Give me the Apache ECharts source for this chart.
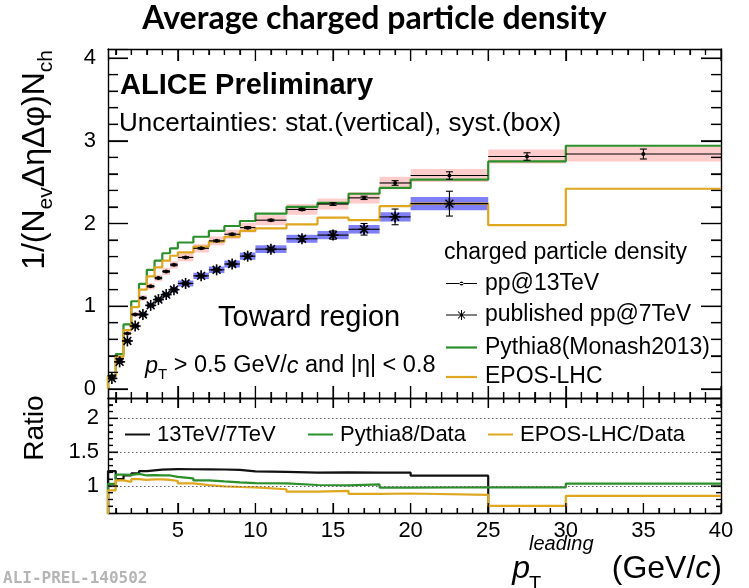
<!DOCTYPE html>
<html>
<head>
<meta charset="utf-8">
<script src="https://cdn.jsdelivr.net/npm/echarts@6/dist/echarts.min.js"></script>
<style>
  html, body { margin: 0; padding: 0; background: #fff; }
  #chart { width: 749px; height: 588px; }
</style>
</head>
<body>
<div id="chart"></div>
<script>
// Leading-track pT bin edges (GeV/c)
const binEdges = [0.5, 1, 1.5, 2, 2.5, 3, 3.5, 4, 4.5, 5, 6, 7, 8, 9, 10, 12, 14, 16, 18, 20, 25, 30, 40];

// pp @ 13 TeV: density, stat. error, syst. error
const pp13Values = [0.155, 0.36, 0.67, 0.90, 1.10, 1.24, 1.34, 1.42, 1.50, 1.59, 1.70, 1.79, 1.87, 1.95, 2.04, 2.17, 2.235, 2.31, 2.49, 2.58, 2.81, 2.84];
const pp13Stat = [0.005, 0.006, 0.007, 0.007, 0.008, 0.008, 0.009, 0.009, 0.01, 0.008, 0.009, 0.01, 0.011, 0.012, 0.011, 0.013, 0.016, 0.02, 0.028, 0.045, 0.045, 0.06];
const pp13Syst = [0.01, 0.015, 0.022, 0.028, 0.033, 0.037, 0.04, 0.043, 0.045, 0.048, 0.051, 0.054, 0.056, 0.059, 0.061, 0.065, 0.067, 0.069, 0.075, 0.078, 0.084, 0.09];

// published pp @ 7 TeV (up to 25 GeV/c)
const pp7Values = [0.127, 0.327, 0.58, 0.76, 0.90, 1.01, 1.08, 1.14, 1.20, 1.275, 1.367, 1.44, 1.51, 1.605, 1.69, 1.815, 1.86, 1.93, 2.08, 2.24];
const pp7Stat = [0.008, 0.01, 0.012, 0.012, 0.013, 0.014, 0.015, 0.015, 0.016, 0.012, 0.014, 0.016, 0.018, 0.02, 0.018, 0.03, 0.05, 0.07, 0.095, 0.15];
const pp7Syst = [0.006, 0.012, 0.018, 0.022, 0.025, 0.028, 0.03, 0.032, 0.034, 0.036, 0.038, 0.04, 0.042, 0.044, 0.046, 0.048, 0.05, 0.052, 0.056, 0.08];

// MC generators
const pythiaValues = [0.16, 0.42, 0.78, 1.06, 1.27, 1.44, 1.55, 1.64, 1.70, 1.77, 1.84, 1.91, 1.97, 2.03, 2.12, 2.20, 2.25, 2.36, 2.43, 2.53, 2.75, 2.94];
const eposValues = [0.145, 0.39, 0.71, 0.99, 1.20, 1.36, 1.47, 1.55, 1.61, 1.65, 1.72, 1.78, 1.84, 1.91, 1.94, 1.99, 2.07, 2.04, 2.21, 2.24, 1.98, 2.42];

// Ratios (lower panel)
const ratio13over7 = [1.22, 1.10, 1.155, 1.185, 1.22, 1.23, 1.24, 1.245, 1.25, 1.247, 1.245, 1.243, 1.238, 1.215, 1.207, 1.196, 1.2, 1.197, 1.197, 1.152];
const ratioPythia = [1.03, 1.167, 1.164, 1.178, 1.155, 1.161, 1.157, 1.155, 1.133, 1.113, 1.082, 1.067, 1.053, 1.041, 1.039, 1.014, 1.007, 1.022, 0.976, 0.981, 0.979, 1.035];
const ratioEpos = [0.935, 1.083, 1.06, 1.10, 1.09, 1.097, 1.097, 1.09, 1.073, 1.038, 1.012, 0.994, 0.984, 0.98, 0.951, 0.917, 0.926, 0.883, 0.888, 0.868, 0.705, 0.852];

// Axis tick labels
const xTickValues = [5, 10, 15, 20, 25, 30, 35, 40];
const yTickValues = [0, 1, 2, 3, 4];
const ratioTickValues = [1, 1.5, 2];
const ratioRefLines = [1, 1.5, 2];

const FONT = '"Liberation Sans", Arial, Helvetica, sans-serif';
const GREEN = '#2b8f2b';
const GOLD = '#dfa620';

const X_MIN = 0.5, X_MAX = 40;
const Y_MIN = -0.11, Y_MAX = 4.11;
const R_MIN = 0.6, R_MAX = 2.3;

const PLOT_LEFT = 108, PLOT_W = 613;
const TOP_Y = 49, TOP_H = 349, RATIO_H = 115;

function between(lo, hi, step, skip) {
  const out = [];
  for (let k = Math.round(lo / step); k * step <= hi + 1e-9; k++) {
    const v = +(k * step).toFixed(4);
    if (!skip.some(s => Math.abs(s - v) < 1e-6)) out.push(v);
  }
  return out;
}
const xMinor = between(1, 39, 1, xTickValues);
const yMinor = between(0.2, 4, 0.2, yTickValues);
const rMinor = between(0.7, 2.2, 0.1, ratioTickValues);

const numLabel = { fontFamily: FONT, fontSize: 22, color: '#000' };
const blackLine = { color: '#000', width: 1.2 };

// Frame axes: outline and numeric labels
function frameAxis(grid, pos, min, max, label) {
  return {
    type: 'value', gridIndex: grid, position: pos, min: min, max: max,
    axisLine: { show: true, onZero: false, lineStyle: { color: '#000', width: 1.4 } },
    splitLine: { show: false }, axisTick: { show: false },
    axisLabel: label ? Object.assign({ show: true, customValues: label.values }, label.style) : { show: false }
  };
}
// Tick axes: inward major + minor ticks from the axis' own nice intervals
function tickAxis(grid, pos, min, max, splitNumber, lenMajor, lenMinor, minorSplit) {
  return {
    type: 'value', gridIndex: grid, position: pos, min: min, max: max, splitNumber: splitNumber,
    axisLine: { show: false, onZero: false }, splitLine: { show: false }, axisLabel: { show: false },
    axisTick: { show: true, inside: true, length: lenMajor, lineStyle: blackLine },
    minorTick: { show: true, splitNumber: minorSplit, length: lenMinor, lineStyle: blackLine }
  };
}

// Histogram outline as a step line starting from the baseline at the first edge
function stepData(vals, endBase) {
  const pts = [[binEdges[0], 0]];
  for (let i = 0; i < vals.length; i++) pts.push([binEdges[i], vals[i]]);
  pts.push([binEdges[vals.length], vals[vals.length - 1]]);
  if (endBase !== undefined) pts.push([binEdges[vals.length], endBase]);
  return pts;
}
function stepSeries(name, vals, color, xi, yi, endBase, extra) {
  return Object.assign({
    type: 'line', name: name, xAxisIndex: xi, yAxisIndex: yi, step: 'end',
    symbol: 'none', showSymbol: false, clip: true, silent: true, z: 3,
    color: color, itemStyle: { color: color },
    lineStyle: { color: color, width: 2.2 },
    data: stepData(vals, endBase)
  }, extra || {});
}

// Systematic-uncertainty boxes spanning the bin width
function boxSeries(name, vals, syst, fill) {
  return {
    type: 'custom', name: name, xAxisIndex: 0, yAxisIndex: 0, z: 1, silent: true, clip: true,
    data: vals.map((v, i) => [binEdges[i], binEdges[i + 1], v - syst[i], v + syst[i]]),
    encode: { x: [0, 1], y: [2, 3] },
    renderItem: function (params, api) {
      const a = api.coord([api.value(0), api.value(3)]);
      const b = api.coord([api.value(1), api.value(2)]);
      return { type: 'rect', shape: { x: a[0], y: a[1], width: b[0] - a[0], height: b[1] - a[1] }, style: { fill: fill } };
    }
  };
}

// Data points: bin-width bar, stat. error bar with caps, marker
function pointSeries(name, vals, stat, marker) {
  return {
    type: 'custom', name: name, xAxisIndex: 0, yAxisIndex: 0, z: 5, silent: true, clip: true,
    itemStyle: { color: '#000' },
    data: vals.map((v, i) => [binEdges[i], binEdges[i + 1], v, stat[i]]),
    encode: { x: [0, 1], y: 2 },
    renderItem: function (params, api) {
      const lo = api.value(0), hi = api.value(1), v = api.value(2), e = api.value(3);
      const mid = (lo + hi) / 2;
      const L = api.coord([lo, v]), R = api.coord([hi, v]), C = api.coord([mid, v]);
      const T = api.coord([mid, v + e]), B = api.coord([mid, v - e]);
      const ls = { stroke: '#000', lineWidth: 1.1 };
      const kids = [
        { type: 'line', shape: { x1: L[0], y1: L[1], x2: R[0], y2: R[1] }, style: ls },
        { type: 'line', shape: { x1: T[0], y1: T[1], x2: B[0], y2: B[1] }, style: ls },
        { type: 'line', shape: { x1: T[0] - 3.5, y1: T[1], x2: T[0] + 3.5, y2: T[1] }, style: ls },
        { type: 'line', shape: { x1: B[0] - 3.5, y1: B[1], x2: B[0] + 3.5, y2: B[1] }, style: ls }
      ];
      if (marker === 'dot') {
        kids.push({ type: 'circle', shape: { cx: C[0], cy: C[1], r: 2 }, style: { fill: '#000' } });
      } else {
        const s = 5.5, d = 3.9, st = { stroke: '#000', lineWidth: 1.6 };
        kids.push({ type: 'line', shape: { x1: C[0] - s, y1: C[1], x2: C[0] + s, y2: C[1] }, style: st });
        kids.push({ type: 'line', shape: { x1: C[0], y1: C[1] - s, x2: C[0], y2: C[1] + s }, style: st });
        kids.push({ type: 'line', shape: { x1: C[0] - d, y1: C[1] - d, x2: C[0] + d, y2: C[1] + d }, style: st });
        kids.push({ type: 'line', shape: { x1: C[0] - d, y1: C[1] + d, x2: C[0] + d, y2: C[1] - d }, style: st });
      }
      return { type: 'group', children: kids };
    }
  };
}

// Frame ticks as thin filled bars, positioned through the panel scales
function xTickSeries(xi, yi, yMin, yMax, majors, minors, lenMaj, lenMin) {
  return {
    type: 'custom', name: 'x ticks ' + xi, xAxisIndex: xi, yAxisIndex: yi, z: 6, silent: true, clip: false,
    itemStyle: { color: '#000' },
    data: majors.map(v => [v, v, yMin, lenMaj]).concat(minors.map(v => [v, v, yMin, lenMin])),
    encode: { x: [0, 1], y: 2 },
    renderItem: function (params, api) {
      const v = api.value(0), len = api.value(3);
      const b = api.coord([v, yMin]), t = api.coord([v, yMax]);
      return { type: 'group', children: [
        { type: 'rect', shape: { x: b[0] - 0.6, y: b[1] - len, width: 1.2, height: len }, style: { fill: '#000' } },
        { type: 'rect', shape: { x: t[0] - 0.6, y: t[1], width: 1.2, height: len }, style: { fill: '#000' } }
      ] };
    }
  };
}
function yTickSeries(xi, yi, majors, minors, lenMaj, lenMin) {
  return {
    type: 'custom', name: 'y ticks ' + yi, xAxisIndex: xi, yAxisIndex: yi, z: 6, silent: true, clip: false,
    itemStyle: { color: '#000' },
    data: majors.map(v => [X_MIN, X_MAX, v, lenMaj]).concat(minors.map(v => [X_MIN, X_MAX, v, lenMin])),
    encode: { x: [0, 1], y: 2 },
    renderItem: function (params, api) {
      const v = api.value(2), len = api.value(3);
      const l = api.coord([X_MIN, v]), r = api.coord([X_MAX, v]);
      return { type: 'group', children: [
        { type: 'rect', shape: { x: l[0], y: l[1] - 0.6, width: len, height: 1.2 }, style: { fill: '#000' } },
        { type: 'rect', shape: { x: r[0] - len, y: r[1] - 0.6, width: len, height: 1.2 }, style: { fill: '#000' } }
      ] };
    }
  };
}

const legendText = { fontFamily: FONT, fontSize: 23, color: '#000', padding: [0, 0, 0, 3] };
const ratioLegendText = { fontFamily: FONT, fontSize: 22, color: '#000', padding: [0, 0, 0, 2] };
const ICON_DOT = 'path://M0 2H31V3H0Z M13.5 2.5A2 2 0 1 0 17.5 2.5A2 2 0 1 0 13.5 2.5Z';
const ICON_STAR = 'path://M0 4.5H31V5.5H0Z M15 0H16V10H15Z M11.65 1.85L12.35 1.15L19.35 8.15L18.65 8.85Z M18.65 1.15L19.35 1.85L12.35 8.85L11.65 8.15Z';

function legendEntry(name, left, top, icon, w, h, text) {
  return {
    data: [name], left: left, top: top, padding: 0, orient: 'horizontal',
    itemWidth: w, itemHeight: h, icon: icon, selectedMode: false,
    textStyle: text
  };
}

const labels = [
  { type: 'text', x: 120, y: 86, style: { text: 'ALICE Preliminary', font: 'bold 29px ' + FONT, fill: '#000', align: 'left', verticalAlign: 'middle' } },
  { type: 'text', x: 119, y: 124, style: { text: 'Uncertainties: stat.(vertical), syst.(box)', font: '26px ' + FONT, fill: '#000', align: 'left', verticalAlign: 'middle' } },
  { type: 'text', x: 218, y: 318, style: { text: 'Toward region', font: '29px ' + FONT, fill: '#000', align: 'left', verticalAlign: 'middle' } },
  { type: 'text', x: 444, y: 253, style: { text: 'charged particle density', font: '23px ' + FONT, fill: '#000', align: 'left', verticalAlign: 'middle' } },
  {
    type: 'text', x: 145, y: 366,
    style: {
      text: '{i|p}{s|T}{n| > 0.5 GeV/}{i|c}{n| and |η| < 0.8}', align: 'left', verticalAlign: 'middle',
      rich: {
        n: { fontFamily: FONT, fontSize: 23.5, lineHeight: 32, fill: '#000' },
        i: { fontFamily: FONT, fontSize: 23.5, fontStyle: 'italic', lineHeight: 32, fill: '#000' },
        s: { fontFamily: FONT, fontSize: 15, lineHeight: 15, verticalAlign: 'bottom', fill: '#000' }
      }
    }
  },
  {
    type: 'text', x: 35, y: 50, rotation: Math.PI / 2,
    style: {
      text: '{a|1/(N}{s|ev}{a|ΔηΔφ)N}{s|ch}', align: 'right', verticalAlign: 'middle',
      rich: {
        a: { fontFamily: FONT, fontSize: 32, lineHeight: 44, fill: '#000' },
        s: { fontFamily: FONT, fontSize: 21, lineHeight: 21, verticalAlign: 'bottom', fill: '#000' }
      }
    }
  },
  { type: 'text', x: 35, y: 428, rotation: Math.PI / 2, style: { text: 'Ratio', font: '28px ' + FONT, fill: '#000', align: 'center', verticalAlign: 'middle' } },
  { type: 'text', x: 530, y: 569, style: { text: 'p', font: 'italic 32px ' + FONT, fill: '#000', align: 'right', verticalAlign: 'middle' } },
  { type: 'text', x: 529, y: 544, style: { text: 'leading', font: 'italic 20px ' + FONT, fill: '#000', align: 'left', verticalAlign: 'middle' } },
  { type: 'text', x: 529, y: 584, style: { text: 'T', font: '20px ' + FONT, fill: '#000', align: 'left', verticalAlign: 'middle' } },
  {
    type: 'text', x: 722, y: 569,
    style: {
      text: '{n|(GeV/}{i|c}{n|)}', align: 'right', verticalAlign: 'middle',
      rich: {
        n: { fontFamily: FONT, fontSize: 32, fill: '#000' },
        i: { fontFamily: FONT, fontSize: 32, fontStyle: 'italic', fill: '#000' }
      }
    }
  },
  { type: 'text', x: 3, y: 579, style: { text: 'ALI-PREL-140502', font: 'bold 16px "DejaVu Sans Mono", monospace', fill: '#b5b5b5', align: 'left', verticalAlign: 'middle' } }
];

const option = {
  animation: false,
  backgroundColor: '#fff',
  title: {
    text: 'Average charged particle density', left: 'center', top: 3, padding: 0,
    textStyle: { fontFamily: 'Lato, "Open Sans", sans-serif', fontWeight: 'bold', fontSize: 32, color: '#000' }
  },
  grid: [
    { left: PLOT_LEFT, top: TOP_Y, width: PLOT_W, height: TOP_H, show: false },
    { left: PLOT_LEFT, top: TOP_Y + TOP_H, width: PLOT_W, height: RATIO_H, show: false }
  ],
  xAxis: [
    frameAxis(0, 'bottom', X_MIN, X_MAX),
    frameAxis(0, 'top', X_MIN, X_MAX),
    frameAxis(1, 'bottom', X_MIN, X_MAX, { values: xTickValues, style: Object.assign({ margin: 7 }, numLabel) }),
    frameAxis(1, 'top', X_MIN, X_MAX),
    tickAxis(0, 'bottom', X_MIN, X_MAX, 8, 12, 6, 5),
    tickAxis(0, 'top', X_MIN, X_MAX, 8, 12, 6, 5),
    tickAxis(1, 'bottom', X_MIN, X_MAX, 8, 10, 5, 5),
    tickAxis(1, 'top', X_MIN, X_MAX, 8, 10, 5, 5)
  ],
  yAxis: [
    frameAxis(0, 'left', Y_MIN, Y_MAX, { values: yTickValues, style: Object.assign({ margin: 12 }, numLabel) }),
    frameAxis(0, 'right', Y_MIN, Y_MAX),
    frameAxis(1, 'left', R_MIN, R_MAX, { values: ratioTickValues, style: Object.assign({ margin: 9 }, numLabel) }),
    frameAxis(1, 'right', R_MIN, R_MAX),
    tickAxis(0, 'left', Y_MIN, Y_MAX, 4, 20, 10, 5),
    tickAxis(0, 'right', Y_MIN, Y_MAX, 4, 20, 10, 5),
    tickAxis(1, 'left', R_MIN, R_MAX, 3, 10, 5, 5),
    tickAxis(1, 'right', R_MIN, R_MAX, 3, 10, 5, 5)
  ],
  legend: [
    legendEntry('pp@13TeV', 446, 272, ICON_DOT, 31, 4, legendText),
    legendEntry('published pp@7TeV', 446, 303.5, ICON_STAR, 31, 10, legendText),
    legendEntry('Pythia8(Monash2013)', 446, 336, 'rect', 31, 2.2, legendText),
    legendEntry('EPOS-LHC', 446, 365.5, 'rect', 31, 2.2, legendText),
    legendEntry('13TeV/7TeV', 125, 423.5, 'rect', 25, 2, ratioLegendText),
    legendEntry('Pythia8/Data', 308, 423.5, 'rect', 25, 2, ratioLegendText),
    legendEntry('EPOS-LHC/Data', 488, 423.5, 'rect', 25, 2, ratioLegendText)
  ],
  series: [
    boxSeries('pp@13TeV syst', pp13Values, pp13Syst, 'rgba(255,0,0,0.2)'),
    boxSeries('pp@7TeV syst', pp7Values, pp7Syst, 'rgba(0,0,240,0.5)'),
    stepSeries('Pythia8(Monash2013)', pythiaValues, GREEN, 0, 0),
    stepSeries('EPOS-LHC', eposValues, GOLD, 0, 0),
    pointSeries('pp@13TeV', pp13Values, pp13Stat, 'dot'),
    pointSeries('published pp@7TeV', pp7Values, pp7Stat, 'star'),
    stepSeries('13TeV/7TeV', ratio13over7, '#111', 2, 2, 0),
    stepSeries('Pythia8/Data', ratioPythia, GREEN, 2, 2, undefined, {
      markLine: {
        silent: true, symbol: 'none', label: { show: false },
        lineStyle: { type: [1.5, 2.5], color: '#666', width: 1 },
        data: ratioRefLines.map(v => ({ yAxis: v }))
      }
    }),
    stepSeries('EPOS-LHC/Data', ratioEpos, GOLD, 2, 2),
    xTickSeries(0, 0, Y_MIN, Y_MAX, xTickValues, xMinor, 12, 6),
    yTickSeries(0, 0, yTickValues, yMinor, 20, 10),
    xTickSeries(2, 2, R_MIN, R_MAX, xTickValues, xMinor, 10, 5),
    yTickSeries(2, 2, ratioTickValues, rMinor, 10, 5)
  ],
  graphic: labels
};

const chart = echarts.init(document.getElementById('chart'), null, { renderer: 'canvas' });
chart.setOption(option);
</script>
</body>
</html>
